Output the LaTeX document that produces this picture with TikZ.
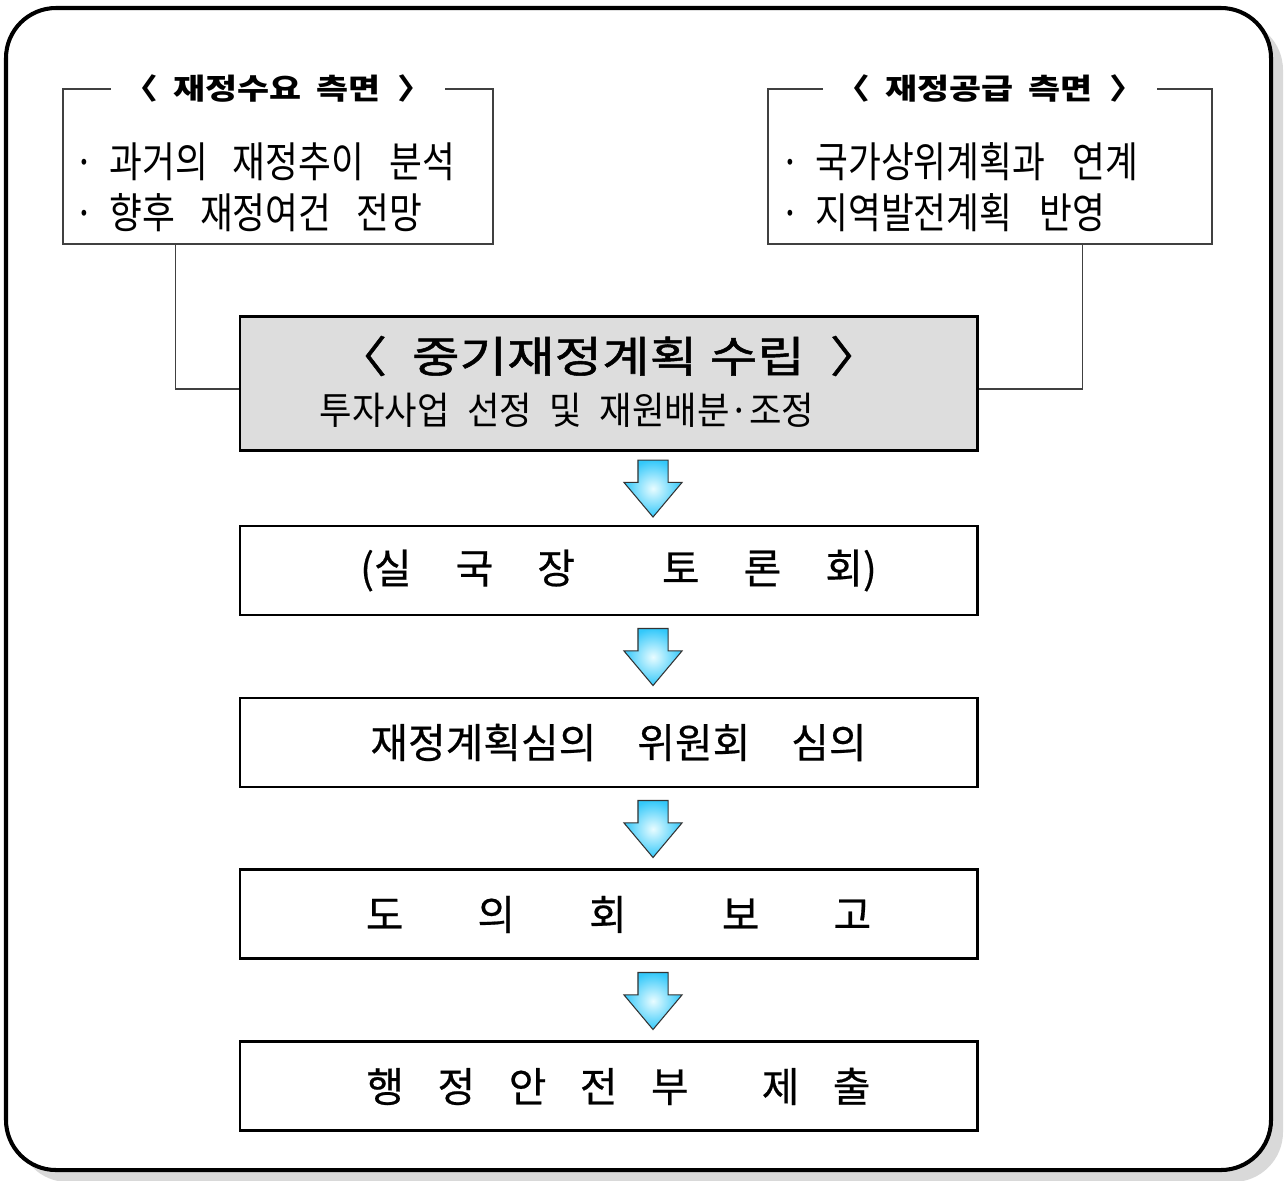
\documentclass[tikz,border=0pt]{standalone}
\usepackage{fontspec}
\setmainfont{Noto Sans CJK KR}
\newfontfamily\krliste[FakeStretch=0.85]{Noto Sans CJK KR}
\newfontfamily\krsous[FakeStretch=0.93]{Noto Sans CJK KR}
\newfontfamily\krtitre[FakeStretch=1.2]{Noto Sans CJK KR}
\newfontfamily\krplan[FakeStretch=1.2,FakeBold=1.2]{Noto Sans CJK KR}
\newfontfamily\kretape[FakeBold=0.5]{Noto Sans CJK KR}
\usetikzlibrary{positioning,calc,shapes.arrows}
\definecolor{tciel}{HTML}{33C8FA}
\definecolor{tlueur}{HTML}{E8FCFF}
\definecolor{tombre}{HTML}{D9D9D9}
\definecolor{tpanneau}{HTML}{DDDDDD}

\begin{document}
\begin{tikzpicture}[
    node distance=1.6cm,
    cote/.style={draw=black!75, line width=0.8pt, rectangle, minimum height=3.1cm},
    entete/.style={fill=white, inner xsep=0.25cm, inner ysep=0pt,
                   font=\krtitre\bfseries\fontsize{16.5}{20}\selectfont},
    liste/.style={anchor=west, align=left, inner sep=0pt,
                  font=\krliste\fontsize{23.9}{29}\selectfont},
    etape/.style={draw, rectangle, line width=1.7pt, minimum width=14.74cm,
                  minimum height=1.78cm, font=\kretape\fontsize{23.3}{28}\selectfont,
                  execute at begin node={\hspace*{0.4cm}}},
    fleche/.style={single arrow, shape border rotate=270, draw=black!80, line width=0.6pt,
                   minimum height=1.14cm, minimum width=1.14cm, inner sep=0.29cm,
                   single arrow head extend=0.28cm, single arrow tip angle=80,
                   inner color=tlueur, outer color=tciel, anchor=tail},
    lien/.style={draw=black!75, line width=0.8pt}
  ]
  \useasboundingbox (0,0) rectangle (25.7,-23.6);
  \fill[tombre, rounded corners=1cm] (0.36,-0.40) rectangle (25.66,-23.64);
  \draw[line width=2.3pt, fill=white, rounded corners=1cm] (0.12,-0.16) rectangle (25.42,-23.40);

  \node[cote, minimum width=8.6cm] (demande) at (5.56,-3.33) {};
  \node[entete] (titreDemande) at (demande.north) {〈\hspace{0.3cm}재정수요\hspace{0.3cm}측면\hspace{0.35cm}〉};
  \node[liste] (listeDemande) at (1.48,-3.75) {·\hspace{0.3cm}과거의\hspace{0.5cm}재정추이\hspace{0.5cm}분석\\·\hspace{0.3cm}향후\hspace{0.5cm}재정여건\hspace{0.5cm}전망};

  \node[cote, minimum width=8.88cm] (offre) at (19.8,-3.33) {};
  \node[entete] (titreOffre) at (offre.north) {〈\hspace{0.3cm}재정공급\hspace{0.3cm}측면\hspace{0.35cm}〉};
  \node[liste] (listeOffre) at (15.6,-3.75) {·\hspace{0.3cm}국가상위계획과\hspace{0.55cm}연계\\·\hspace{0.3cm}지역발전계획\hspace{0.55cm}반영};

  \draw[lien] ($(demande.south west)!0.263!(demande.south east)$) |- ($(12.17,-7.66)+(-7.37,-0.12)$);
  \draw[lien] ($(offre.south west)!0.707!(offre.south east)$) |- ($(12.17,-7.66)+(7.37,-0.12)$);

  \node[etape, fill=tpanneau, minimum height=2.68cm, execute at begin node={}] (plan) at (12.17,-7.66) {};
  \node[font=\krplan\fontsize{24.5}{28}\selectfont] (titrePlan) at (12.17,-7.12) {〈\hspace{0.5cm}중기재정계획\hspace{0.25cm}수립\hspace{0.5cm}〉};
  \node[font=\krsous\fontsize{21.6}{26}\selectfont] (sousPlan) at (11.34,-8.2) {투자사업\hspace{0.35cm}선정\hspace{0.35cm}및\hspace{0.35cm}재원배분·조정};

  \node[etape] (debat) [below=1.46cm of plan] {(실\hspace{0.88cm}국\hspace{0.88cm}장\hspace{1.74cm}토\hspace{0.88cm}론\hspace{0.88cm}회)};
  \node[etape] (comite) [below=of debat] {재정계획심의　위원회　심의};
  \node[etape] (conseil) [below=of comite] {도\hspace{1.48cm}의\hspace{1.48cm}회\hspace{1.9cm}보\hspace{1.48cm}고};
  \node[etape] (envoi) [below=of conseil] {행\hspace{0.67cm}정\hspace{0.67cm}안\hspace{0.67cm}전\hspace{0.67cm}부\hspace{1.46cm}제\hspace{0.67cm}출};

  \node[fleche] (f1) at ($(plan.south)!0.5!(debat.north)+(0.89,0.57)$) {};
  \node[fleche] (f2) at ($(debat.south)!0.5!(comite.north)+(0.89,0.57)$) {};
  \node[fleche] (f3) at ($(comite.south)!0.5!(conseil.north)+(0.89,0.57)$) {};
  \node[fleche] (f4) at ($(conseil.south)!0.5!(envoi.north)+(0.89,0.57)$) {};
\end{tikzpicture}
\end{document}
